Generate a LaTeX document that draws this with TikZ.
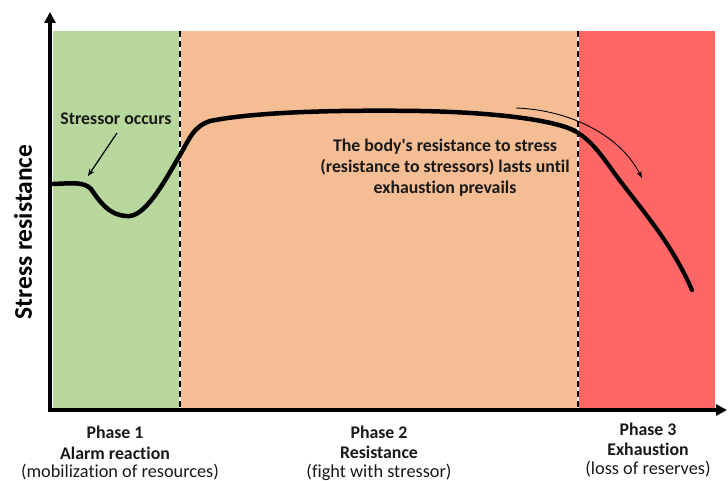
\documentclass[tikz,border=0pt]{standalone}
\usepackage{fontspec}
\setmainfont{Carlito}[Ligatures={TeX,NoCommon}]
\usetikzlibrary{arrows.meta}
\definecolor{gph}{RGB}{183,215,156}
\definecolor{pph}{RGB}{245,189,148}
\definecolor{rph}{RGB}{255,102,102}
\definecolor{txt}{RGB}{25,25,25}
\begin{document}
\begin{tikzpicture}[x=1pt,y=-1pt,
  lbl/.style={font=\fontsize{17.8}{21}\selectfont\bfseries,text=txt,align=center,inner sep=0pt},
  sub/.style={font=\fontsize{18.3}{21}\selectfont,text=txt,inner sep=0pt},
  phaseline/.style={draw=white,line width=1.2pt},
  phasedash/.style={draw=black,line width=1.2pt,dash pattern=on 6pt off 4pt}]
\useasboundingbox (0,0) rectangle (728,481);
% regions
\fill[gph] (53,31) rectangle (180,409);
\fill[pph] (180,31) rectangle (578,409);
\fill[rph] (578,31) rectangle (715,409);
\draw[phaseline] (180,31) -- (180,409);
\draw[phasedash] (180,31) -- (180,409);
\draw[phaseline] (578,31) -- (578,409);
\draw[phasedash] (578,31) -- (578,409);
% axes
\coordinate (o) at (50,410);
\coordinate (ytop) at (50,12);
\coordinate (xend) at (727,410);
\draw[line width=3.5pt,-{Triangle[length=11pt,width=11pt]}] ([yshift=-1.75pt]o) -- (ytop);
\draw[line width=3.5pt,-{Triangle[length=11pt,width=11pt]}] ([xshift=-1.75pt]o) -- (xend);
% curve
\draw[line width=4.5pt,line cap=round,line join=round]
  (53,184) .. controls (75,183) and (84,182) .. (91,189)
  .. controls (100,202) and (110,217) .. (130,216)
  .. controls (148,214) and (168,175) .. (180,155)
  .. controls (190,138) and (193,127) .. (210,121)
  .. controls (260,111) and (350,110) .. (420,111)
  .. controls (480,112) and (550,118) .. (575,131);
\draw[line width=4.2pt,line cap=round]
  (575,131) .. controls (590,140) and (598,150) .. (615,174)
  .. controls (640,208) and (670,240) .. (692,290);
% labels
\node[lbl] (stressor) at (116,119) {Stressor occurs};
\coordinate (stressorTip) at (88,176);
\draw[line width=1.2pt,-{Stealth[length=7pt,width=6pt]}] (117,133) -- (stressorTip);
\node[lbl] (body) at (445,168) {The body\textquotesingle s resistance to stress\\(resistance to stressors) lasts until\\exhaustion prevails};
\coordinate (arrS) at (516,108);
\coordinate (arrE) at (642,178);
\draw[line width=0.9pt,-{Stealth[length=7pt,width=5pt]}] (arrS) .. controls (570,110) and (620,135) .. (arrE);
% axis label
\node[font=\fontsize{25.5}{30}\selectfont\bfseries,rotate=90,inner sep=0pt] (ylab) at (23,232) {Stress resistance};
% phases
\node[lbl] (p1) at (115,432) {Phase 1};
\node[lbl] (p1b) at (115,453) {Alarm reaction};
\node[sub] (p1c) at (120,472) {(mobilization of resources)};
\node[lbl] (p2) at (379,432) {Phase 2};
\node[lbl] (p2b) at (379,452) {Resistance};
\node[sub] (p2c) at (379,472) {(fight with stressor)};
\node[lbl] (p3) at (648,429) {Phase 3};
\node[lbl] (p3b) at (648,449) {Exhaustion};
\node[sub] (p3c) at (648,469) {(loss of reserves)};
\end{tikzpicture}
\end{document}
